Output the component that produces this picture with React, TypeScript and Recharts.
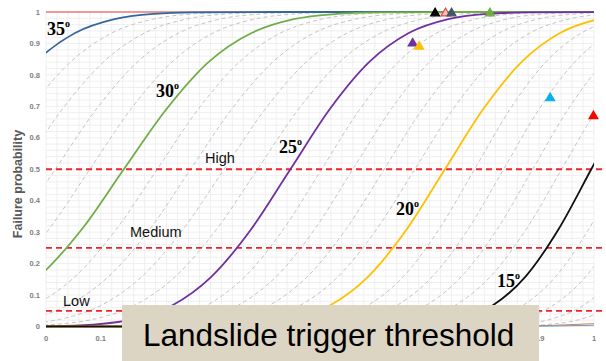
import React from 'react';
import {
  ComposedChart,
  Line,
  Scatter,
  XAxis,
  YAxis,
  ZAxis,
  CartesianGrid,
  ReferenceLine,
  Cell,
} from 'recharts';

// Probability levels shared by every fragility curve (x positions differ per curve)
const probLevels = [0, 0, 0.0013, 0.0062, 0.0228, 0.0668, 0.1587, 0.3085, 0.5, 0.6915, 0.8413, 0.9332, 0.9772, 0.9938, 0.9987, 1, 1];

// x positions at which each curve reaches the levels above
const curve35 = [-1, -0.739, -0.595, -0.523, -0.451, -0.379, -0.307, -0.235, -0.163, -0.091, -0.019, 0.053, 0.125, 0.197, 0.269, 0.413, 2];
const curve34 = [-1, -0.705, -0.555, -0.48, -0.405, -0.33, -0.255, -0.18, -0.105, -0.03, 0.045, 0.12, 0.195, 0.27, 0.345, 0.495, 2];
const curve33 = [-1, -0.645, -0.495, -0.42, -0.345, -0.27, -0.195, -0.12, -0.045, 0.03, 0.105, 0.18, 0.255, 0.33, 0.405, 0.555, 2];
const curve32 = [-1, -0.583, -0.433, -0.358, -0.283, -0.208, -0.133, -0.058, 0.017, 0.092, 0.167, 0.242, 0.317, 0.392, 0.467, 0.617, 2];
const curve31 = [-1, -0.52, -0.37, -0.295, -0.22, -0.145, -0.07, 0.005, 0.08, 0.155, 0.23, 0.305, 0.38, 0.455, 0.53, 0.68, 2];
const curve30 = [-1, -0.478, -0.323, -0.246, -0.168, -0.091, -0.013, 0.065, 0.142, 0.22, 0.297, 0.375, 0.452, 0.53, 0.607, 0.762, 2];
const curve29 = [-1, -0.397, -0.247, -0.172, -0.097, -0.022, 0.053, 0.128, 0.203, 0.278, 0.353, 0.428, 0.503, 0.578, 0.653, 0.803, 2];
const curve28 = [-1, -0.336, -0.186, -0.111, -0.036, 0.039, 0.114, 0.189, 0.264, 0.339, 0.414, 0.489, 0.564, 0.639, 0.714, 0.864, 2];
const curve27 = [-1, -0.275, -0.125, -0.05, 0.025, 0.1, 0.175, 0.25, 0.325, 0.4, 0.475, 0.55, 0.625, 0.7, 0.775, 0.925, 2];
const curve26 = [-1, -0.214, -0.064, 0.011, 0.086, 0.161, 0.236, 0.311, 0.386, 0.461, 0.536, 0.611, 0.686, 0.761, 0.836, 0.986, 2];
const curve25 = [-1, -0.13, 0.014, 0.086, 0.158, 0.23, 0.302, 0.374, 0.446, 0.518, 0.59, 0.662, 0.734, 0.806, 0.878, 1.022, 2];
const curve24 = [-1, -0.057, 0.083, 0.153, 0.223, 0.293, 0.363, 0.433, 0.503, 0.573, 0.643, 0.713, 0.783, 0.853, 0.923, 1.063, 2];
const curve23 = [-1, 0, 0.14, 0.21, 0.28, 0.35, 0.42, 0.49, 0.56, 0.63, 0.7, 0.77, 0.84, 0.91, 0.98, 1.12, 2];
const curve22 = [-1, 0.057, 0.197, 0.267, 0.337, 0.407, 0.477, 0.547, 0.617, 0.687, 0.757, 0.827, 0.897, 0.967, 1.037, 1.177, 2];
const curve21 = [-1, 0.113, 0.253, 0.323, 0.393, 0.463, 0.533, 0.603, 0.673, 0.743, 0.813, 0.883, 0.953, 1.023, 1.093, 1.233, 2];
const curve20 = [-1, 0.168, 0.308, 0.378, 0.448, 0.518, 0.588, 0.658, 0.728, 0.798, 0.868, 0.938, 1.008, 1.078, 1.148, 1.288, 2];
const curve19 = [-1, 0.262, 0.392, 0.457, 0.522, 0.587, 0.652, 0.717, 0.782, 0.847, 0.912, 0.977, 1.042, 1.107, 1.172, 1.302, 2];
const curve18 = [-1, 0.315, 0.445, 0.51, 0.575, 0.64, 0.705, 0.77, 0.835, 0.9, 0.965, 1.03, 1.095, 1.16, 1.225, 1.355, 2];
const curve17 = [-1, 0.368, 0.498, 0.563, 0.628, 0.693, 0.758, 0.823, 0.888, 0.953, 1.018, 1.083, 1.148, 1.213, 1.278, 1.408, 2];
const curve16 = [-1, 0.421, 0.551, 0.616, 0.681, 0.746, 0.811, 0.876, 0.941, 1.006, 1.071, 1.136, 1.201, 1.266, 1.331, 1.461, 2];
const curve15 = [-1, 0.515, 0.635, 0.695, 0.755, 0.815, 0.875, 0.935, 0.995, 1.055, 1.115, 1.175, 1.235, 1.295, 1.355, 1.475, 2];
const curve14 = [-1, 0.57, 0.69, 0.75, 0.81, 0.87, 0.93, 0.99, 1.05, 1.11, 1.17, 1.23, 1.29, 1.35, 1.41, 1.53, 2];
const curve13 = [-1, 0.625, 0.745, 0.805, 0.865, 0.925, 0.985, 1.045, 1.105, 1.165, 1.225, 1.285, 1.345, 1.405, 1.465, 1.585, 2];
const curve12 = [-1, 0.68, 0.8, 0.86, 0.92, 0.98, 1.04, 1.1, 1.16, 1.22, 1.28, 1.34, 1.4, 1.46, 1.52, 1.64, 2];
const curve11 = [-1, 0.735, 0.855, 0.915, 0.975, 1.035, 1.095, 1.155, 1.215, 1.275, 1.335, 1.395, 1.455, 1.515, 1.575, 1.695, 2];

const grayCurves = [curve34, curve33, curve32, curve31, curve29, curve28, curve27, curve26, curve24, curve23, curve22, curve21, curve19, curve18, curve17, curve16, curve14, curve13, curve12, curve11];

const colouredCurves = [
  { name: '35', xs: curve35, color: '#33679e' },
  { name: '30', xs: curve30, color: '#70ad47' },
  { name: '25', xs: curve25, color: '#7030a0' },
  { name: '20', xs: curve20, color: '#ffc000' },
  { name: '15', xs: curve15, color: '#111111' },
];

// Small curves near zero at the bottom right
const lowOrangeX = [0.86, 0.93, 1.0];
const lowOrangeP = [0.001, 0.004, 0.009];
const lowBlueX = [0.88, 0.94, 1.0];
const lowBlueP = [0.0005, 0.002, 0.004];

// Triangle markers
const markerX = [0.71, 0.729, 0.74, 0.81, 0.669, 0.681, 0.92, 0.999];
const markerY = [0.996, 0.996, 0.996, 0.996, 0.9, 0.89, 0.726, 0.669];
const markerFill = ['#000000', '#f6c4bd', '#44546a', '#70ad47', '#7030a0', '#ffc000', '#00b0f0', '#ff0000'];
const markerStroke = ['#000000', '#e8473c', '#44546a', '#70ad47', '#7030a0', '#ffc000', '#00b0f0', '#ff0000'];

// Thresholds
const thresholdValues = [0.5, 0.25, 0.05];
const certainValue = 1;

// Only the tick labels not hidden behind the caption box
const xTicks = [0, 0.1, 0.9, 1];
const yTicks = [0, 0.1, 0.2, 0.3, 0.4, 0.5, 0.6, 0.7, 0.8, 0.9, 1];

const gridValues = Array.from({ length: 51 }, (_, i) => i / 50);

const toPoints = (xs: number[], ps: number[]) => xs.map((x, i) => ({ x, p: ps[i] }));

const markers = markerX.map((x, i) => ({ x, p: markerY[i] }));

const tickStyle = { fontSize: 7.5, fontWeight: 700, fill: '#808080', fontFamily: "'Liberation Sans', Arial, sans-serif" };

const serif = "'Liberation Serif', 'Times New Roman', serif";
const sans = "'Liberation Sans', Arial, sans-serif";

function AngleLabel({ x, y, text }: { x: number; y: number; text: string }) {
  return (
    <text x={x} y={y} fontFamily={serif} fontWeight={700} fontSize={18} fill="#000">
      {text}
      <tspan fontSize={10} dy={-8}>o</tspan>
    </text>
  );
}

export default function App() {
  return (
    <div style={{ position: 'absolute', left: 0, top: 0, width: 606, height: 361, background: '#fff', fontFamily: sans }}>
      <ComposedChart width={606} height={361} margin={{ top: 12, right: 12, bottom: 0, left: 6 }}>
        <CartesianGrid
          stroke="#ebebeb"
          strokeWidth={0.8}
          horizontalValues={gridValues}
          verticalValues={gridValues}
        />
        <XAxis
          type="number"
          dataKey="x"
          domain={[0, 1]}
          allowDataOverflow
          ticks={xTicks}
          height={34.5}
          axisLine={false}
          tickLine={false}
          tickSize={0}
          tickMargin={9}
          tick={tickStyle}
          interval={0}
        />
        <XAxis xAxisId="m" type="number" dataKey="x" domain={[0, 1]} hide />
        <YAxis
          type="number"
          dataKey="p"
          domain={[0, 1]}
          ticks={yTicks}
          width={40}
          axisLine={false}
          tickLine={false}
          tickSize={0}
          tickMargin={6}
          tick={tickStyle}
          interval={0}
        />
        <ZAxis type="number" range={[34, 34]} />
        {grayCurves.map((xs, i) => (
          <Line
            key={'g' + i}
            data={toPoints(xs, probLevels)}
            dataKey="p"
            type="monotone"
            stroke="#c4c4c4"
            strokeWidth={1}
            strokeDasharray="4 3"
            dot={false}
            activeDot={false}
            isAnimationActive={false}
          />
        ))}
        <Line data={toPoints(lowOrangeX, lowOrangeP)} dataKey="p" type="monotone" stroke="#ed7d31" strokeWidth={1} dot={false} activeDot={false} isAnimationActive={false} />
        <Line data={toPoints(lowBlueX, lowBlueP)} dataKey="p" type="monotone" stroke="#5b9bd5" strokeWidth={1} dot={false} activeDot={false} isAnimationActive={false} />
        <ReferenceLine y={certainValue} stroke="#ee7a76" strokeWidth={1.6} />
        {thresholdValues.map((v) => (
          <ReferenceLine
            key={'t' + v}
            segment={[{ x: 0, y: v }, { x: 1.016, y: v }]}
            ifOverflow="visible"
            stroke="#e8262b"
            strokeWidth={1.8}
            strokeDasharray="6 4"
          />
        ))}
        {colouredCurves.map((c) => (
          <Line
            key={c.name}
            data={toPoints(c.xs, probLevels)}
            dataKey="p"
            type="monotone"
            stroke={c.color}
            strokeWidth={1.8}
            dot={false}
            activeDot={false}
            isAnimationActive={false}
          />
        ))}
        <Scatter xAxisId="m" data={markers} dataKey="p" shape="triangle" isAnimationActive={false}>
          {markers.map((m, i) => (
            <Cell key={'m' + i} fill={markerFill[i]} stroke={markerStroke[i]} strokeWidth={1.2} />
          ))}
        </Scatter>
      </ComposedChart>
      <svg width={606} height={361} style={{ position: 'absolute', left: 0, top: 0, pointerEvents: 'none' }}>
        <text
          x={17.5}
          y={184}
          transform="rotate(-90 17.5 184)"
          textAnchor="middle"
          dominantBaseline="central"
          fontFamily={sans}
          fontWeight={700}
          fontSize={12.5}
          fill="#595959"
        >
          Failure probability
        </text>
        <AngleLabel x={47} y={35} text="35" />
        <AngleLabel x={156} y={97} text="30" />
        <AngleLabel x={279} y={153} text="25" />
        <AngleLabel x={396} y={215} text="20" />
        <AngleLabel x={497} y={287} text="15" />
        <text x={205} y={163} fontFamily={sans} fontSize={14.5} fill="#111">High</text>
        <text x={130} y={237} fontFamily={sans} fontSize={14.5} fill="#111">Medium</text>
        <text x={63} y={306} fontFamily={sans} fontSize={14.5} fill="#111">Low</text>
        <rect x={122} y={305} width={417} height={56} fill="#ddd5c4" />
        <text x={143} y={346} fontFamily={sans} fontSize={31.5} fill="#000">Landslide trigger threshold</text>
      </svg>
    </div>
  );
}
